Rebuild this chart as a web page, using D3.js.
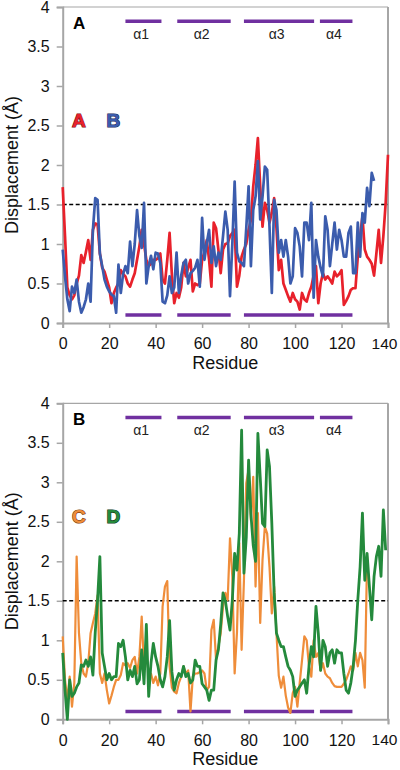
<!DOCTYPE html>
<html><head><meta charset="utf-8">
<script src="https://cdn.jsdelivr.net/npm/d3@7"></script>
<style>body{margin:0;background:#fff}svg{display:block}text{font-family:"Liberation Sans",Arial,sans-serif}</style>
</head><body><div id="chart"></div>
<script>
// ---- data (index = residue number) ----
const seriesA = [1.72,1.1,0.45,0.35,0.3,0.35,0.5,0.6,0.86,0.76,0.9,1.05,0.8,1.18,1.26,1.25,0.88,0.7,0.65,0.55,
0.45,0.25,0.38,0.45,0.5,0.67,0.62,0.59,0.5,0.46,0.55,0.63,0.8,0.97,1.18,1.0,0.8,0.72,0.75,0.8,
0.8,0.82,0.88,0.55,0.5,0.8,1.14,0.6,0.25,0.38,0.32,0.45,0.76,0.59,0.7,0.8,0.4,0.5,0.48,0.5,
0.8,0.9,1.05,0.8,0.46,1.27,1.2,0.93,0.63,0.93,1.0,1.01,1.1,1.14,1.18,0.46,0.6,0.84,0.93,1.0,
1.18,1.3,1.73,2.0,2.34,1.73,1.22,1.52,1.43,1.27,1.4,1.58,1.2,0.67,0.8,0.5,0.42,0.34,0.27,0.38,
0.3,0.27,0.17,0.38,0.3,0.27,0.38,0.46,0.6,0.72,0.25,0.5,0.63,0.55,0.59,0.55,0.5,0.65,0.59,0.62,
0.67,0.23,0.28,0.34,0.42,0.44,0.44,0.84,1.1,1.35,0.93,0.84,0.8,0.75,0.6,0.88,1.18,0.76,1.1,1.52,2.13];
const seriesB = [0.93,0.59,0.3,0.15,0.46,0.38,0.55,0.27,0.13,0.2,0.3,0.5,0.27,1.18,1.58,1.56,0.88,0.72,0.55,0.46,
0.4,0.36,0.34,0.13,0.74,0.38,0.62,0.72,0.63,1.03,0.72,1.0,1.43,1.1,0.95,1.52,0.5,0.72,0.85,0.68,
0.89,0.88,0.76,0.27,0.25,0.35,0.59,0.38,0.45,0.89,0.38,0.6,0.76,0.8,0.5,0.63,0.66,0.7,0.8,0.46,
1.33,0.8,1.01,1.18,0.76,0.97,0.72,0.89,0.8,1.1,1.41,1.18,0.34,1.0,1.79,0.89,0.78,0.76,0.72,1.2,
1.73,0.72,1.43,1.6,2.05,1.31,1.6,1.98,1.94,1.22,0.38,1.56,1.43,0.89,1.05,0.84,1.05,0.84,0.5,0.59,
1.2,1.14,0.97,0.59,1.27,1.27,1.05,1.52,0.32,1.05,0.84,0.7,0.59,1.35,1.18,0.72,1.0,1.27,0.93,1.18,
1.05,0.84,0.84,1.14,1.22,0.63,0.63,1.27,0.84,1.39,1.27,1.71,1.48,1.9,1.8];
const seriesC = [1.05,0.5,0.24,0.54,0.16,0.46,2.06,1.09,0.71,0.58,0.54,0.71,1.09,1.22,1.34,1.57,0.58,0.46,0.58,0.37,
0.2,0.3,0.41,0.5,0.5,0.56,0.71,0.68,0.71,0.65,0.75,0.79,0.58,0.79,1.3,0.67,0.84,0.58,0.58,0.46,
0.54,0.43,0.58,1.43,1.68,1.75,0.67,0.4,0.35,0.33,0.46,0.54,0.67,0.58,0.62,0.1,0.54,0.58,0.58,0.6,
0.62,0.58,0.37,0.41,1.13,1.26,0.75,0.92,1.09,1.43,1.6,1.51,2.29,1.81,0.58,1.1,2.23,0.88,1.76,2.99,
3.16,2.52,3.07,1.68,2.61,1.22,2.02,2.44,2.35,1.93,1.34,1.68,1.09,0.55,0.4,0.54,0.3,0.15,0.08,0.33,
0.41,0.16,0.46,0.75,1.05,1.0,0.67,0.54,1.0,0.79,0.84,0.62,0.71,0.58,0.54,0.52,0.46,0.42,0.41,0.41,
0.41,0.45,0.5,0.58,0.67,0.62,0.84,0.67,0.84,0.75,0.4,2.06];
const seriesD = [0.84,0.37,0.0,0.5,0.29,0.33,0.41,0.46,0.69,0.67,0.75,0.67,0.79,0.56,1.1,1.51,2.06,0.84,0.67,0.5,
0.58,0.5,0.54,0.54,0.96,0.92,1.0,0.79,0.5,0.62,0.54,0.67,0.45,0.5,0.88,0.45,1.2,0.29,0.71,0.96,
0.79,0.67,0.5,0.41,0.54,0.79,1.25,0.6,0.37,0.5,0.58,0.54,0.67,0.54,0.58,0.46,0.5,0.75,0.67,0.67,
0.45,0.41,0.37,0.24,0.37,0.37,0.75,0.88,1.2,1.6,1.5,1.3,1.13,1.51,2.1,1.89,2.35,3.66,1.85,2.3,
3.28,2.6,2.2,2.0,3.62,3.07,2.48,2.44,3.41,3.2,2.48,1.6,1.09,1.0,0.92,0.92,0.79,0.67,0.62,0.54,
0.29,0.37,0.41,0.46,0.5,0.33,0.67,0.92,0.79,1.43,1.09,0.62,1.0,0.92,0.67,0.84,0.88,0.71,0.88,0.84,
0.84,0.58,0.37,0.33,0.46,0.67,1.0,1.51,1.93,2.61,1.76,2.1,1.68,1.26,1.81,2.06,2.19,1.81,2.65,2.14];
const helixNames = ["α1","α2","α3","α4"];
const helixStart = [27,49.3,78,110.7];
const helixEnd = [42.5,72.3,108.2,124.7];
const xTicks = [0,20,40,60,80,100,120,140];
const yTicks = [0,0.5,1,1.5,2,2.5,3,3.5,4];
const threshold = 1.5;

// ---- drawing ----
const svg = d3.select("#chart").append("svg").attr("width",400).attr("height",770);
const x = d3.scaleLinear().domain([0,140]).range([62.7,388]);
const gray = "#a6a6a6";
const panels = [
  {top:7, tag:"A", series:[{d:seriesA,c:"#e8212b",w:2.7,n:"A",stroke:"#7d0c12"},{d:seriesB,c:"#3b5cad",w:2.7,n:"B",stroke:"#1b2a5c"}]},
  {top:403.3, tag:"B", series:[{d:seriesC,c:"#ef8d3a",w:2.2,n:"C",stroke:"#7a3e0c"},{d:seriesD,c:"#248a3c",w:2.8,n:"D",stroke:"#0e4019"}]}
];
panels.forEach(p=>{
  const y = d3.scaleLinear().domain([0,4]).range([p.top+316,p.top]);
  const g = svg.append("g");
  // frame top/right
  g.append("line").attr("x1",x(0)).attr("x2",x(140)).attr("y1",y(4)).attr("y2",y(4)).attr("stroke",gray).attr("stroke-width",1.2);
  g.append("line").attr("x1",x(140)).attr("x2",x(140)).attr("y1",y(4)).attr("y2",y(0)).attr("stroke",gray).attr("stroke-width",2);
  // axes
  const ya = g.append("g").attr("transform",`translate(${x(0)},0)`)
    .call(d3.axisLeft(y).tickValues(yTicks).tickSize(6).tickPadding(7).tickFormat(d=>String(d)));
  const xa = g.append("g").attr("transform",`translate(0,${y(0)})`)
    .call(d3.axisBottom(x).tickValues(xTicks).tickSize(5).tickPadding(10).tickFormat(d=>String(d)));
  [ya,xa].forEach(a=>{
    a.select(".domain").attr("stroke",gray).attr("stroke-width",2);
    a.selectAll(".tick line").attr("stroke",gray).attr("stroke-width",1.5);
    a.selectAll(".tick text").attr("fill","#111").style("font-size","16px").style("font-family",'"Liberation Sans",Arial,sans-serif');
  });
  // keep the last x label inside the picture, as in the reference
  xa.selectAll(".tick text").filter(d=>d===140).attr("dx",-4).style("font-size","15.5px");
  // titles
  g.append("text").attr("x",x(70)).attr("y",y(0)+46).attr("text-anchor","middle").style("font-size","18px").attr("fill","#111").text("Residue");
  g.append("text").attr("transform",`translate(18,${y(2)}) rotate(-90)`).attr("text-anchor","middle").style("font-size","18px").attr("fill","#111").text("Displacement (Å)");
  // threshold
  g.append("line").attr("x1",x(0)).attr("x2",x(140)).attr("y1",y(threshold)).attr("y2",y(threshold))
    .attr("stroke","#000").attr("stroke-width",1.5).attr("stroke-dasharray","4,2.5");
  // helices
  helixNames.forEach((nm,i)=>{
    [3.82,0.1].forEach(v=>{
      g.append("line").attr("x1",x(helixStart[i])).attr("x2",x(helixEnd[i])).attr("y1",y(v)).attr("y2",y(v))
        .attr("stroke","#7030a0").attr("stroke-width",3.5);
    });
    g.append("text").attr("x",x((helixStart[i]+helixEnd[i])/2-1)).attr("y",y(3.6)).attr("text-anchor","middle")
      .style("font-size","14px").attr("fill","#222").text(nm);
  });
  // series lines
  const line = d3.line().x((d,i)=>x(i)).y(d=>y(d));
  p.series.forEach(s=>{
    g.append("path").datum(s.d).attr("d",line).attr("fill","none").attr("stroke",s.c)
      .attr("stroke-width",s.w).attr("stroke-linejoin","round");
  });
  // panel tag
  g.append("text").attr("x",73).attr("y",y(4)+22).style("font-size","17px").style("font-weight","bold").attr("fill","#000").text(p.tag);
  // series letters
  p.series.forEach((s,i)=>{
    g.append("text").attr("x",72+i*34.5).attr("y",y(4)+120).style("font-size","19px").style("font-weight","bold")
      .attr("fill",s.c).attr("stroke",s.stroke).attr("stroke-width",1.2).attr("paint-order","stroke").text(s.n);
  });
});
</script></body></html>
